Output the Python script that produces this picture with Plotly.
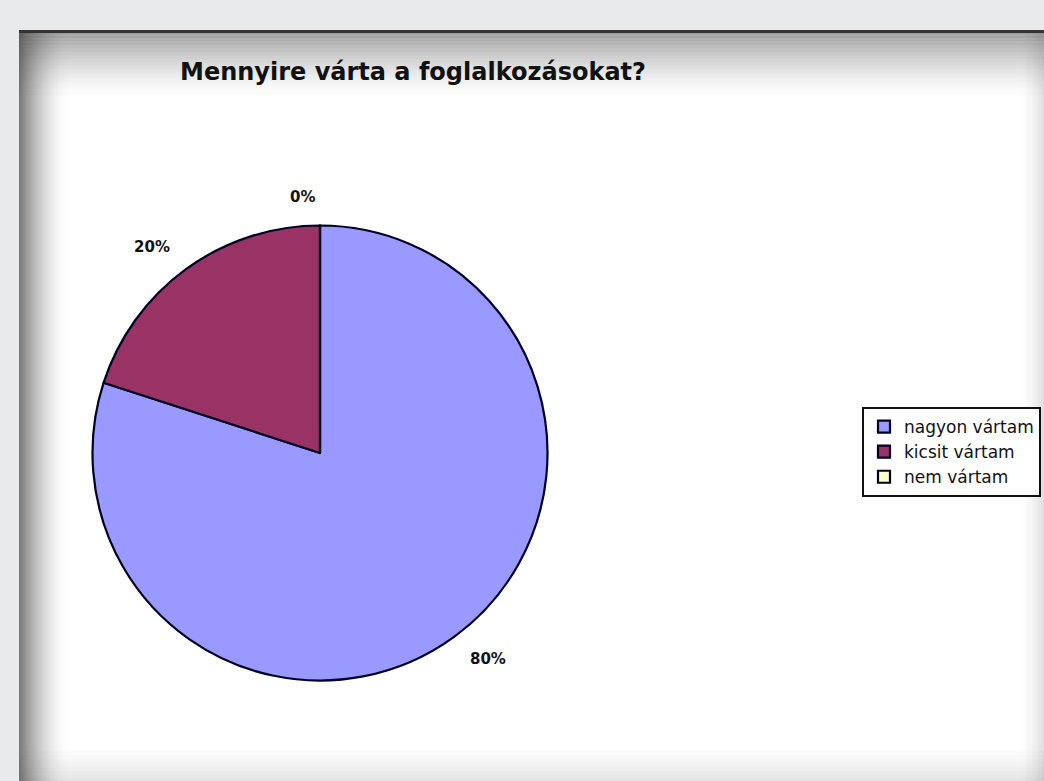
import plotly.graph_objects as go

# Data
labels = ["nagyon vártam", "kicsit vártam", "nem vártam"]
values = [80, 20, 0]
colors = ["#9999FF", "#993366", "#FFFFCC"]
title_text = "Mennyire várta a foglalkozásokat?"

W, H = 1044, 781
cx, cy, r = 320, 453, 227.5

fig = go.Figure()
# the pie itself
fig.add_trace(go.Pie(
    labels=labels,
    values=values,
    marker=dict(colors=colors, line=dict(color="#000022", width=2.2)),
    sort=False,
    direction="clockwise",
    rotation=0,
    textinfo="none",
    hoverinfo="label+percent",
    domain=dict(x=[(cx - r) / W, (cx + r) / W], y=[1 - (cy + r) / H, 1 - (cy - r) / H]),
    showlegend=True,
))
# transparent copy that carries the outside percent labels a bit farther out
r2 = r + 20
fig.add_trace(go.Pie(
    labels=labels,
    values=values,
    marker=dict(colors=["rgba(0,0,0,0)"] * len(values), line=dict(width=0)),
    sort=False,
    direction="clockwise",
    rotation=0,
    texttemplate="%{percent:.0%}",
    textposition="outside",
    textfont=dict(family="DejaVu Sans", size=15, color="#111111", weight="bold"),
    hoverinfo="skip",
    domain=dict(x=[(cx - r2) / W, (cx + r2) / W], y=[1 - (cy + r2) / H, 1 - (cy - r2) / H]),
    showlegend=False,
))

shapes = []
# white panel
shapes.append(dict(type="rect", xref="paper", yref="paper", x0=19 / W, x1=1.0, y0=0, y1=1 - 30 / H,
                   fillcolor="#FFFFFF", line=dict(width=0), layer="below"))
# left shadow gradient
n = 50
for i in range(n):
    op = 0.7 * (1 - i / n) ** 1.8
    shapes.append(dict(type="rect", xref="paper", yref="paper",
                       x0=(19 + i * 1.0) / W, x1=(19 + (i + 1) * 1.0) / W,
                       y0=0, y1=1 - 30 / H, fillcolor="#404040", opacity=op,
                       line=dict(width=0), layer="below"))
# top shadow gradient
for i in range(n):
    op = 0.55 * (1 - i / n) ** 1.6
    shapes.append(dict(type="rect", xref="paper", yref="paper",
                       x0=19 / W, x1=1.0,
                       y0=1 - (30 + (i + 1) * 1.4) / H, y1=1 - (30 + i * 1.4) / H,
                       fillcolor="#404040", opacity=op, line=dict(width=0), layer="below"))
# right shadow
for i in range(20):
    op = 0.18 * (i / 20) ** 1.5
    shapes.append(dict(type="rect", xref="paper", yref="paper",
                       x0=(1020 + i * 1.2) / W, x1=(1020 + (i + 1) * 1.2) / W,
                       y0=0, y1=1 - 30 / H, fillcolor="#404040", opacity=op,
                       line=dict(width=0), layer="below"))
# bottom shadow
for i in range(20):
    op = 0.15 * (i / 20) ** 1.5
    shapes.append(dict(type="rect", xref="paper", yref="paper",
                       x0=19 / W, x1=1.0,
                       y0=(20 - (i + 1)) * 2 / H, y1=(20 - i) * 2 / H,
                       fillcolor="#404040", opacity=op, line=dict(width=0), layer="below"))
# top dark line
shapes.append(dict(type="rect", xref="paper", yref="paper", x0=19 / W, x1=1.0,
                   y0=1 - 33 / H, y1=1 - 30 / H, fillcolor="#333333", line=dict(width=0), layer="below"))

fig.update_layout(
    width=W, height=H,
    margin=dict(l=0, r=0, t=0, b=0),
    paper_bgcolor="#E9EAEC",
    plot_bgcolor="#FFFFFF",
    shapes=shapes,
    title=dict(text="<b>" + title_text + "</b>", x=180 / W, xanchor="left",
               y=1 - 72 / H, yanchor="middle",
               font=dict(family="DejaVu Sans", size=24, color="#111111")),
    legend=dict(x=862 / W, xanchor="left", y=1 - 452 / H, yanchor="middle",
                bgcolor="#FFFFFF", bordercolor="#111111", borderwidth=2,
                font=dict(family="DejaVu Sans", size=17, color="#111111"),
                itemwidth=30),
)

fig.write_html("out.html", config={"displayModeBar": False},
               post_script="document.body.style.margin='0';document.body.style.overflow='hidden';")
